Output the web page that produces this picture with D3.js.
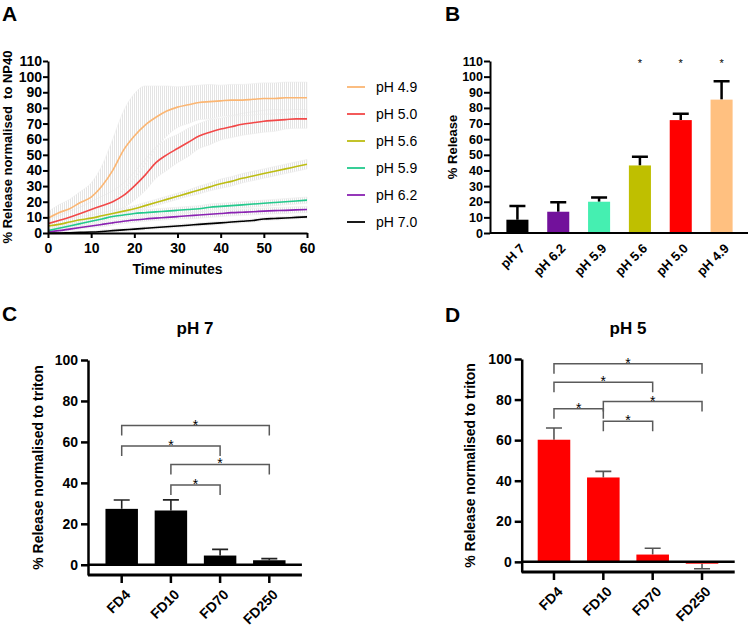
<!DOCTYPE html>
<html lang="en">
<head>
<meta charset="utf-8">
<title>pH dependent release</title>
<script src="https://cdn.jsdelivr.net/npm/d3@7"></script>
<style>
    body { margin: 0; background: #fff; }
    svg { font-family: "Liberation Sans", Arial, sans-serif; }
    .axis path, .axis line { stroke: #000; }
    .axis text { font-weight: bold; fill: #000; }
</style>
</head>
<body>
<svg id="fig" width="750" height="629"></svg>

<script type="text/javascript">

// ---------- panel A : release over time ----------
var timeMin = [0, 2.5, 5, 7.5, 10, 12.5, 15, 17.5, 20, 22.5, 25, 27.5, 30,
               32.5, 35, 37.5, 40, 42.5, 45, 47.5, 50, 52.5, 55, 57.5, 60];
var kinLabels = ["pH 4.9", "pH 5.0", "pH 5.6", "pH 5.9", "pH 6.2", "pH 7.0"];

var ph49 = [9.5, 13, 15.5, 19.5, 23, 30, 40, 53, 62, 69, 74, 78, 80.5, 82, 83.5, 84, 84.5, 85, 85, 85.5, 86, 86, 86.5, 86.5, 86.5];
var ph50 = [6, 8, 10, 12.5, 15, 17.5, 20, 24, 30, 37, 45, 50, 54, 58, 62, 64.5, 66.5, 68, 69.5, 70.5, 71.5, 72, 72.5, 73, 73];
var ph56 = [4.5, 5.5, 7, 8.5, 9.5, 11, 12.5, 14, 15.5, 17.5, 19.5, 21.5, 23.5, 25.5, 27.5, 29.5, 31.5, 33, 35, 36.5, 38, 39.5, 41, 42.5, 44];
var ph59 = [1.5, 3, 4.5, 6, 7.5, 9, 10.5, 11.5, 12.5, 13, 13.5, 14, 14.5, 15, 15.5, 16.5, 17, 17.5, 18, 18.5, 19, 19.5, 20, 20.5, 21];
var ph62 = [1, 1.5, 2.5, 3.5, 4.5, 5.5, 6.5, 7.5, 8.3, 9, 9.5, 10, 10.5, 11, 11.5, 12, 12.5, 13, 13.3, 13.6, 14, 14.3, 14.5, 14.8, 15];
var ph70 = [0, 0, 0.2, 0.4, 0.6, 1, 1.5, 2, 2.5, 3, 3.5, 4, 4.5, 5, 5.5, 6, 6.5, 7, 7.5, 8, 9, 9.3, 9.6, 10, 10.3];

var sd49 = [4, 5, 6, 7, 9, 13, 20, 25, 27, 25, 20, 16, 13, 12, 11, 11, 10, 10, 10, 10, 10, 10, 10, 10, 10];
var sd50 = [3, 3, 4, 4, 5, 6, 7, 8, 9, 10, 10, 10, 9, 9, 8, 8, 7, 7, 7, 7, 7, 7, 6, 6, 6];
var sd56 = [2, 2, 2, 2, 2, 2, 2, 2, 2, 2, 2, 2, 2, 2, 2.5, 2.5, 3, 3, 3, 3, 3, 3, 3, 3, 3];
var sd59 = [1, 1, 1, 1.5, 1.5, 1.5, 1.5, 1.5, 2, 2, 2, 2, 2, 2, 2, 2, 2, 2, 2, 2, 2, 2, 2, 2, 2];
var sd62 = [1, 1, 1, 1, 1, 1.5, 1.5, 1.5, 1.5, 1.5, 1.5, 1.5, 1.5, 2, 2, 2, 2, 2, 2, 2, 2, 2, 2, 2, 2];
var sd70 = [0.5, 0.5, 0.5, 0.5, 0.5, 1, 1, 1, 1, 1, 1, 1, 1, 1, 1, 1, 1, 1, 1, 1, 1, 1, 1, 1, 1];

var yTicksA = [0, 10, 20, 30, 40, 50, 60, 70, 80, 90, 100, 110];
var xTicksA = [0, 10, 20, 30, 40, 50, 60];

// ---------- panel B : release at 60 min ----------
var barLabelsB = ["pH 7", "pH 6.2", "pH 5.9", "pH 5.6", "pH 5.0", "pH 4.9"];
var barMeansB  = [8.5, 13.6, 20, 43.2, 72.2, 85.3];
var barErrB    = [8.8, 6.1, 2.7, 5.6, 4.1, 11.8];
var barSigB    = [false, false, false, true, true, true];

// ---------- panels C and D : dextran sizes ----------
var dextrans = ["FD4", "FD10", "FD70", "FD250"];
var meansC = [27.3, 26.5, 4.5, 2.2];
var errC   = [4.3, 5.2, 3.0, 0.8];
var meansD = [60.2, 41.6, 3.6, -0.9];
var errD   = [5.8, 3.0, 3.1, 2.5];
var yTicksCD = [0, 20, 40, 60, 80, 100];
// [from, to, height in %]
var bracketsC = [["FD4", "FD250", 68], ["FD4", "FD70", 58], ["FD10", "FD250", 49], ["FD10", "FD70", 39]];
var bracketsD = [["FD4", "FD250", 97.7], ["FD4", "FD70", 88.5], ["FD10", "FD250", 79], ["FD4", "FD10", 75.5], ["FD10", "FD70", 69.3]];

// colours
var lineColors = ["#fbb673", "#f24848", "#bdbd12", "#22c98c", "#8a22b2", "#000000"];
var barColorsB = ["#000000", "#72119b", "#45efb1", "#bfbf00", "#ff0000", "#ffc080"];

var svg = d3.select("#fig");
var defs = svg.append("defs");

// dense vertical error bars -> hatch pattern
defs.append("pattern")
    .attr("id", "errHatch")
    .attr("patternUnits", "userSpaceOnUse")
    .attr("width", 2).attr("height", 4)
  .append("rect")
    .attr("width", 1).attr("height", 4)
    .attr("fill", "#e4e4e4");

defs.append("clipPath").attr("id", "clipA")
  .append("rect").attr("x", 48).attr("y", 50).attr("width", 262).attr("height", 183);

function panelLetter(t, x, y) {
    svg.append("text").attr("x", x).attr("y", y)
        .style("font-size", "21px").style("font-weight", "bold")
        .text(t);
}

// ================= A =================
var xA = d3.scaleLinear().domain([0, 60]).range([48, 307]);
var yA = d3.scaleLinear().domain([0, 110]).range([233, 61]);

var kinMeans = [ph49, ph50, ph56, ph59, ph62, ph70];
var kinSd = [sd49, sd50, sd56, sd59, sd62, sd70];

var kin = kinLabels.map(function(l, i) {
    return {
        label: l,
        color: lineColors[i],
        pts: timeMin.map(function(t, j) { return {t: t, m: kinMeans[i][j], s: kinSd[i][j]}; })
    };
});

var band = d3.area()
    .x(function(d) { return xA(d.t); })
    .y0(function(d) { return yA(Math.max(0, d.m - d.s)); })
    .y1(function(d) { return yA(d.m + d.s); })
    .curve(d3.curveMonotoneX);

var line = d3.line()
    .x(function(d) { return xA(d.t); })
    .y(function(d) { return yA(d.m); })
    .curve(d3.curveMonotoneX);

var gA = svg.append("g").attr("clip-path", "url(#clipA)");

gA.selectAll(".band").data(kin.slice().reverse()).enter()
    .append("path")
    .attr("class", "band")
    .attr("d", function(d) { return band(d.pts); })
    .attr("fill", "url(#errHatch)")
    .attr("stroke", "#ececec")
    .attr("stroke-width", 0.6);

gA.selectAll(".kline").data(kin.slice().reverse()).enter()
    .append("path")
    .attr("class", "kline")
    .attr("d", function(d) { return line(d.pts); })
    .attr("fill", "none")
    .attr("stroke", function(d) { return d.color; })
    .attr("stroke-width", 1.6);

svg.append("g").attr("class", "axis")
    .attr("transform", "translate(48,0)")
    .call(d3.axisLeft(yA).tickValues(yTicksA).tickSize(5).tickPadding(1).tickSizeOuter(0))
    .call(function(g) {
        g.selectAll("text").style("font-size", "14px");
        g.selectAll("path, line").attr("stroke-width", 2);
    });

svg.append("g").attr("class", "axis")
    .attr("transform", "translate(0,233)")
    .call(d3.axisBottom(xA).tickValues(xTicksA).tickSize(5).tickPadding(5).tickSizeOuter(0))
    .call(function(g) {
        g.selectAll("text").style("font-size", "14px");
        g.selectAll("path, line").attr("stroke-width", 2);
    });

svg.append("text")
    .attr("x", (xA(0) + xA(60)) / 2).attr("y", 274)
    .attr("text-anchor", "middle")
    .style("font-size", "14px").style("font-weight", "bold")
    .text("Time minutes");

svg.append("text")
    .attr("transform", "translate(12," + ((yA(0) + yA(110)) / 2) + ") rotate(-90)")
    .attr("text-anchor", "middle")
    .attr("xml:space", "preserve")
    .style("font-size", "13px").style("font-weight", "bold")
    .style("white-space", "pre")
    .text("% Release normalised  to NP40");

// legend
var leg = svg.selectAll(".leg").data(kin).enter()
    .append("g").attr("class", "leg")
    .attr("transform", function(d, i) { return "translate(347," + (87 + i * 27) + ")"; });
leg.append("line")
    .attr("x1", 0).attr("x2", 18)
    .attr("stroke", function(d) { return d.color; })
    .attr("stroke-width", 1.8);
leg.append("text")
    .attr("x", 29).attr("dy", "0.35em")
    .style("font-size", "14px")
    .text(function(d) { return d.label; });

panelLetter("A", 2, 21);

// ================= B =================
var xB = d3.scaleBand().domain(barLabelsB).range([497, 742]).paddingInner(0.46).paddingOuter(0.23);
var yB = d3.scaleLinear().domain([0, 110]).range([233, 61]);

var barsB = barLabelsB.map(function(l, i) {
    return {label: l, v: barMeansB[i], e: barErrB[i], sig: barSigB[i], color: barColorsB[i]};
});

var gB = svg.append("g");
gB.selectAll(".eb").data(barsB).enter().append("path")
    .attr("d", function(d) {
        var cx = xB(d.label) + xB.bandwidth() / 2, top = yB(d.v + d.e);
        return "M" + cx + "," + yB(d.v) + "V" + top + "M" + (cx - 8) + "," + top + "H" + (cx + 8);
    })
    .attr("stroke", "#000").attr("stroke-width", 2.5).attr("fill", "none");

gB.selectAll("rect").data(barsB).enter().append("rect")
    .attr("x", function(d) { return xB(d.label); })
    .attr("y", function(d) { return yB(d.v); })
    .attr("width", xB.bandwidth())
    .attr("height", function(d) { return yB(0) - yB(d.v); })
    .attr("fill", function(d) { return d.color; });

gB.selectAll(".star").data(barsB.filter(function(d) { return d.sig; })).enter()
    .append("text")
    .attr("x", function(d) { return xB(d.label) + xB.bandwidth() / 2; })
    .attr("y", yB(110) + 6)
    .attr("text-anchor", "middle")
    .style("font-size", "11px")
    .text("*");

svg.append("g").attr("class", "axis")
    .attr("transform", "translate(490,0)")
    .call(d3.axisLeft(yB).tickValues(yTicksA).tickSize(6).tickPadding(1).tickSizeOuter(0))
    .call(function(g) {
        g.selectAll("text").style("font-size", "12.5px");
        g.selectAll("path, line").attr("stroke-width", 2);
    });

svg.append("line")
    .attr("x1", 490).attr("x2", 748)
    .attr("y1", yB(0)).attr("y2", yB(0))
    .attr("stroke", "#000").attr("stroke-width", 2);

gB.selectAll(".xlab").data(barsB).enter().append("text")
    .attr("transform", function(d) {
        return "translate(" + (xB(d.label) + xB.bandwidth() / 2 + 5) + "," + 246 + ") rotate(-45)";
    })
    .attr("text-anchor", "end")
    .attr("dy", "0.35em")
    .style("font-size", "13px").style("font-weight", "bold")
    .text(function(d) { return d.label; });

svg.append("text")
    .attr("transform", "translate(457," + ((yB(0) + yB(110)) / 2) + ") rotate(-90)")
    .attr("text-anchor", "middle")
    .style("font-size", "13px").style("font-weight", "bold")
    .text("% Release");

panelLetter("B", 445, 21);

// ================= C / D =================
function dextranPanel(opt) {
    var x = d3.scaleBand().domain(dextrans).range(opt.xr).paddingInner(0.34).paddingOuter(0.17);
    var y = d3.scaleLinear().domain([-5, 100]).range(opt.yr);
    var ax = opt.axisX, axEnd = opt.xr[1] + 8;
    var cx = function(k) { return x(k) + x.bandwidth() / 2; };

    var bars = dextrans.map(function(k, i) { return {k: k, v: opt.means[i], e: opt.err[i]}; });
    var g = svg.append("g");

    // error bars (behind the bar)
    g.selectAll(".eb").data(bars).enter().append("path")
        .attr("d", function(d) {
            var c = cx(d.k), end = d.v >= 0 ? y(d.v + d.e) : y(d.v - d.e);
            return "M" + c + "," + y(d.v) + "V" + end + "M" + (c - 8) + "," + end + "H" + (c + 8);
        })
        .attr("stroke", opt.errColor).attr("stroke-width", 1.6).attr("fill", "none");

    g.selectAll(".bar").data(bars).enter().append("rect")
        .attr("x", function(d) { return x(d.k); })
        .attr("y", function(d) { return y(Math.max(0, d.v)); })
        .attr("width", x.bandwidth())
        .attr("height", function(d) { return Math.abs(y(d.v) - y(0)); })
        .attr("fill", opt.color);

    // zero line
    g.append("line")
        .attr("x1", ax).attr("x2", axEnd)
        .attr("y1", y(0)).attr("y2", y(0))
        .attr("stroke", "#000").attr("stroke-width", 2.5);

    // axes
    svg.append("g").attr("class", "axis")
        .attr("transform", "translate(" + ax + ",0)")
        .call(d3.axisLeft(y).tickValues(yTicksCD).tickSize(7).tickPadding(3).tickSizeOuter(0))
        .call(function(a) {
            a.selectAll("text").style("font-size", "14px");
            a.selectAll("path, line").attr("stroke-width", 2.5);
        });

    svg.append("line")
        .attr("x1", ax).attr("x2", axEnd)
        .attr("y1", y(-5)).attr("y2", y(-5))
        .attr("stroke", "#000").attr("stroke-width", 2.8);

    g.selectAll(".xt").data(dextrans).enter().append("line")
        .attr("x1", cx).attr("x2", cx)
        .attr("y1", y(-5)).attr("y2", y(-5) + 8)
        .attr("stroke", "#000").attr("stroke-width", 2.5);

    g.selectAll(".xlab").data(dextrans).enter().append("text")
        .attr("transform", function(k) {
            return "translate(" + (cx(k) + 6) + "," + (y(-5) + 17) + ") rotate(-45)";
        })
        .attr("text-anchor", "end")
        .attr("dy", "0.35em")
        .style("font-size", "14px").style("font-weight", "bold")
        .text(function(k) { return k; });

    // significance brackets
    g.selectAll(".br").data(opt.brackets).enter().append("path")
        .attr("d", function(b) {
            var x1 = cx(b[0]), x2 = cx(b[1]), yy = y(b[2]);
            return "M" + x1 + "," + (yy + 10) + "V" + yy + "H" + x2 + "V" + (yy + 10);
        })
        .attr("stroke", "#5a5a5a").attr("stroke-width", 1.5).attr("fill", "none");

    g.selectAll(".st").data(opt.brackets).enter().append("text")
        .attr("x", function(b) { return (cx(b[0]) + cx(b[1])) / 2; })
        .attr("y", function(b) { return y(b[2]) + 4; })
        .attr("text-anchor", "middle")
        .style("font-size", "14px")
        .text("*");

    // title and y label
    svg.append("text")
        .attr("x", opt.titleX).attr("y", 334)
        .attr("text-anchor", "middle")
        .style("font-size", "17px").style("font-weight", "bold")
        .text(opt.title);

    svg.append("text")
        .attr("transform", "translate(" + opt.labelX + "," + ((y(-5) + y(100)) / 2) + ") rotate(-90)")
        .attr("text-anchor", "middle")
        .style("font-size", "14px").style("font-weight", "bold")
        .text("% Release normalised to triton");
}

dextranPanel({
    xr: [97.1, 293.9], yr: [575, 360], axisX: 88,
    means: meansC, err: errC, brackets: bracketsC,
    color: "#000000", errColor: "#222",
    title: "pH 7", titleX: 195, labelX: 43
});

dextranPanel({
    xr: [529.3, 726.7], yr: [572, 359], axisX: 521.7,
    means: meansD, err: errD, brackets: bracketsD,
    color: "#ff0000", errColor: "#555",
    title: "pH 5", titleX: 628, labelX: 475
});

panelLetter("C", 2, 321);
panelLetter("D", 445, 322);

</script>
</body>
</html>
